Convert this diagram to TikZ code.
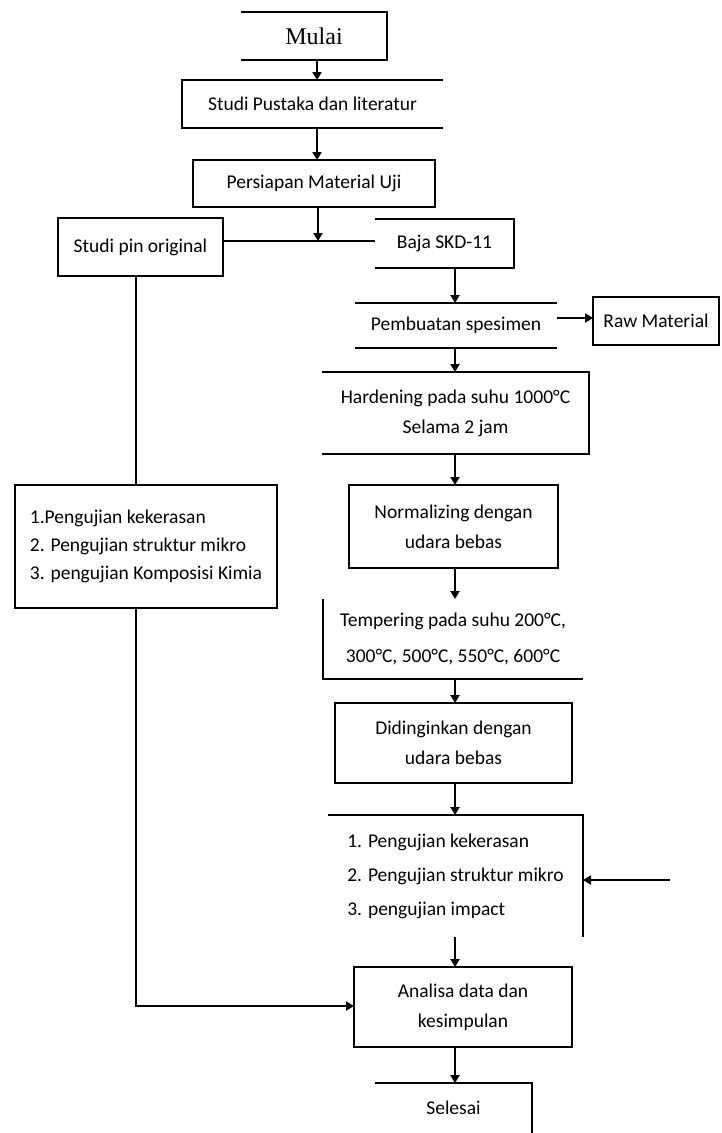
\documentclass[tikz,border=0pt]{standalone}
\usepackage{fontspec}
\setmainfont{Carlito}
\newfontfamily\mulaifont{Liberation Serif}
\usetikzlibrary{arrows.meta}
\begin{document}
\begin{tikzpicture}[x=1pt,y=-1pt,
  every node/.style={inner sep=0pt, outer sep=0pt, align=center, font=\fontsize{19.5}{30}\selectfont},
  bx/.style args={#1x#2}{minimum width=#1pt, minimum height=#2pt},
  fullbox/.style={draw, line width=2.2pt},
  edge/.style={line width=2.2pt},
  arr/.style={line width=2pt, -{Triangle[length=8pt,width=9pt]}},
]
\fill[white] (0,0) rectangle (721,1133);
\useasboundingbox (0,0) rectangle (721,1133);

% nodes
\node[bx=146x48, font=\mulaifont\fontsize{24}{28}\selectfont] (mulai) at (314,36) {Mulai};
\node[bx=261x48] (studi) at (312.5,104) {Studi Pustaka dan literatur};
\node[bx=242x47, fullbox] (persiapan) at (314,183.5) {Persiapan Material Uji};
\node[bx=165x58, fullbox] (pin) at (140.5,247) {Studi pin original};
\node[bx=139x49] (baja) at (444.5,243.5) {Baja SKD-11};
\node[bx=202x45] (pembuatan) at (456,325.5) {Pembuatan spesimen};
\node[bx=126x48, fullbox] (raw) at (656,321) {Raw Material};
\node[bx=267x82] (hardening) at (455.5,413) {Hardening pada suhu 1000°C\\Selama 2 jam};
\node[bx=209x83, fullbox] (normal) at (453.5,526.5) {Normalizing dengan\\udara bebas};
\node[bx=260x80, font=\fontsize{19.5}{36}\selectfont] (temper) at (453,639) {Tempering pada suhu 200°C,\\300°C, 500°C, 550°C, 600°C};
\node[bx=237x80, fullbox] (dingin) at (453.5,743) {Didinginkan dengan\\udara bebas};
\node[bx=255x122, align=left, font=\fontsize{19.5}{34}\selectfont] (uji2) at (455.5,876) {1. Pengujian kekerasan\\2. Pengujian struktur mikro\\3. pengujian impact};
\node[bx=218x80, fullbox] (analisa) at (463,1007) {Analisa data dan\\kesimpulan};
\node[bx=157x50] (selesai) at (453.5,1108) {Selesai};
\node[bx=262x123, fullbox, align=left, font=\fontsize{19.5}{28}\selectfont] (uji1) at (146,546.5) {1.Pengujian kekerasan\\2. Pengujian struktur mikro\\3. pengujian Komposisi Kimia};

% partial borders
\draw[edge] (mulai.north west) -- (mulai.north east) -- (mulai.south east) -- (mulai.south west);
\draw[edge] (studi.north east) -- (studi.north west) -- (studi.south west) -- (studi.south east);
\draw[edge] (baja.north west) -- (baja.north east) -- (baja.south east) -- (baja.south west);
\draw[edge] (pembuatan.north west) -- (pembuatan.north east);
\draw[edge] (pembuatan.south west) -- (pembuatan.south east);
\draw[edge] (hardening.north west) -- (hardening.north east) -- (hardening.south east) -- (hardening.south west);
\draw[edge] (temper.north west) -- (temper.south west) -- (temper.south east);
\draw[edge] (uji2.north west) -- (uji2.north east) -- (uji2.south east);
\draw[edge] (selesai.north west) -- (selesai.north east) -- (selesai.south east);

% helper coordinates
\coordinate (c0) at (136,0);
\coordinate (c1) at (317,0);
\coordinate (c2) at (455,0);
\coordinate (j) at (318,241);
\coordinate (r) at (0,318);
\coordinate (src) at (670,880);
\coordinate (k) at (136,1006);

% connectors
\draw[arr] (c1 |- mulai.south) -- (c1 |- studi.north);
\draw[arr] (c1 |- studi.south) -- (c1 |- persiapan.north);
\draw[arr] (j |- persiapan.south) -- (j);
\draw[edge] (pin.east |- j) -- (baja.west |- j);
\draw[arr] (c2 |- baja.south) -- (c2 |- pembuatan.north);
\draw[arr] (pembuatan.east |- r) -- (raw.west |- r);
\draw[arr] (c2 |- pembuatan.south) -- (c2 |- hardening.north);
\draw[arr] (c2 |- hardening.south) -- (c2 |- normal.north);
\draw[arr] (c2 |- normal.south) -- (c2 |- temper.north);
\draw[arr] (c2 |- temper.south) -- (c2 |- dingin.north);
\draw[arr] (c2 |- dingin.south) -- (c2 |- uji2.north);
\draw[arr] (src) -- (uji2.east |- src);
\draw[arr] (c2 |- uji2.south) -- (c2 |- analisa.north);
\draw[arr] (c2 |- analisa.south) -- (c2 |- selesai.north);
\draw[edge] (c0 |- pin.south) -- (c0 |- uji1.north);
\draw[arr] (c0 |- uji1.south) -- (k) -- (analisa.west |- k);
\end{tikzpicture}
\end{document}
